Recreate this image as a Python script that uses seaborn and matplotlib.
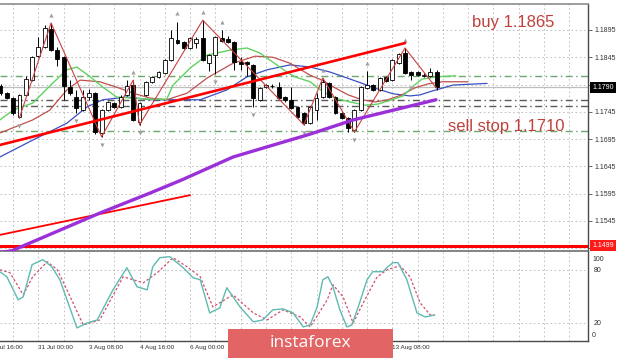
import matplotlib
matplotlib.use("Agg")
import matplotlib.pyplot as plt
import matplotlib.transforms as mtransforms
from matplotlib.patches import Rectangle
import numpy as np
import pandas as pd
import seaborn as sns

# ---------------- data (EURUSD H4) ----------------
opens = [1.1792, 1.1779, 1.1770, 1.1735, 1.1776, 1.1803, 1.1847, 1.1864, 1.1897, 1.1858,
         1.1846, 1.1790, 1.1772, 1.1748, 1.1772, 1.1779, 1.1706, 1.1748, 1.1761, 1.1754,
         1.1776, 1.1794, 1.1726, 1.1776, 1.1800, 1.1809, 1.1816, 1.1840, 1.1877, 1.1873,
         1.1862, 1.1871, 1.1880, 1.1834, 1.1849, 1.1880, 1.1879, 1.1873, 1.1836, 1.1836,
         1.1831, 1.1767, 1.1790, 1.1792, 1.1790, 1.1772, 1.1767, 1.1754, 1.1743, 1.1724,
         1.1748, 1.1772, 1.1798, 1.1772, 1.1743, 1.1734, 1.1712, 1.1748, 1.1789, 1.1794,
         1.1785, 1.1809, 1.1803, 1.1834, 1.1853, 1.1818, 1.1818, 1.1810, 1.1811, 1.1818]
highs = [1.1796, 1.1781, 1.1772, 1.1778, 1.1811, 1.1848, 1.1882, 1.1904, 1.1908, 1.1864,
         1.1848, 1.1803, 1.1785, 1.1785, 1.1787, 1.1781, 1.1750, 1.1765, 1.1763, 1.1775,
         1.1803, 1.1803, 1.1763, 1.1802, 1.1811, 1.1820, 1.1842, 1.1895, 1.1910, 1.1875,
         1.1882, 1.1882, 1.1913, 1.1851, 1.1884, 1.1895, 1.1884, 1.1875, 1.1846, 1.1838,
         1.1833, 1.1791, 1.1796, 1.1796, 1.1800, 1.1774, 1.1790, 1.1756, 1.1745, 1.1756,
         1.1779, 1.1807, 1.1800, 1.1774, 1.1745, 1.1736, 1.1750, 1.1792, 1.1820, 1.1796,
         1.1809, 1.1811, 1.1842, 1.1853, 1.1862, 1.1820, 1.1820, 1.1816, 1.1825, 1.1822]
lows = [1.1776, 1.1768, 1.1739, 1.1734, 1.1774, 1.1801, 1.1845, 1.1862, 1.1856, 1.1829,
        1.1767, 1.1776, 1.1743, 1.1746, 1.1766, 1.1704, 1.1699, 1.1746, 1.1752, 1.1752,
        1.1774, 1.1728, 1.1721, 1.1774, 1.1798, 1.1807, 1.1814, 1.1838, 1.1869, 1.1860,
        1.1860, 1.1862, 1.1838, 1.1820, 1.1815, 1.1873, 1.1871, 1.1822, 1.1822, 1.1811,
        1.1754, 1.1765, 1.1788, 1.1789, 1.1768, 1.1763, 1.1750, 1.1733, 1.1721, 1.1722,
        1.1730, 1.1770, 1.1770, 1.1741, 1.1732, 1.1708, 1.1708, 1.1746, 1.1787, 1.1783,
        1.1783, 1.1799, 1.1801, 1.1832, 1.1814, 1.1803, 1.1810, 1.1808, 1.1809, 1.1784]
closes = [1.1779, 1.1770, 1.1743, 1.1776, 1.1805, 1.1846, 1.1864, 1.1899, 1.1858, 1.1842,
          1.1792, 1.1779, 1.1752, 1.1772, 1.1779, 1.1708, 1.1748, 1.1763, 1.1754, 1.1772,
          1.1792, 1.1730, 1.1761, 1.1800, 1.1809, 1.1818, 1.1840, 1.1880, 1.1871, 1.1862,
          1.1880, 1.1878, 1.1840, 1.1849, 1.1882, 1.1875, 1.1873, 1.1836, 1.1833, 1.1833,
          1.1770, 1.1789, 1.1794, 1.1793, 1.1770, 1.1767, 1.1752, 1.1735, 1.1724, 1.1754,
          1.1770, 1.1800, 1.1772, 1.1743, 1.1734, 1.1715, 1.1748, 1.1790, 1.1794, 1.1785,
          1.1807, 1.1801, 1.1840, 1.1851, 1.1816, 1.1812, 1.1812, 1.1813, 1.1818, 1.1790]

# Alligator lines (lips green, teeth red, jaw blue) - candle index / price
lips_x = [-0.1, 2, 5.1, 8.3, 10.5, 12.1, 14.2, 16.2, 18.4, 21, 23.7, 26.3, 27.3, 30, 32.7, 36.3,
          39, 41, 43.1, 45.3, 46.6, 49, 50.9, 52.9, 55.3, 57.7, 59.7, 61.9, 63.7, 65.3, 66.7, 69.1, 72]
lips_y = [1.1730, 1.1748, 1.1761, 1.1798, 1.1822, 1.1827, 1.1809, 1.1790, 1.1772, 1.1770, 1.1768,
          1.1768, 1.1794, 1.1825, 1.1849, 1.1858, 1.1862, 1.1853, 1.1836, 1.1818, 1.1809, 1.1800,
          1.1783, 1.1770, 1.1763, 1.1757, 1.1759, 1.1767, 1.1774, 1.1792, 1.1805, 1.1809, 1.1811]
teeth_x = [-0.1, 5.1, 7.8, 10.5, 12.6, 15.7, 18.4, 21, 23.7, 26.3, 29.5, 32.7, 36.8, 40.3, 43.1,
           45.8, 47.4, 49, 50.9, 52.9, 55, 57.2, 59.3, 61.3, 63.5, 65.6, 67.6, 69.9, 74]
teeth_y = [1.1706, 1.1730, 1.1748, 1.1785, 1.1803, 1.1800, 1.1790, 1.1779, 1.1770, 1.1767, 1.1779,
           1.1807, 1.1834, 1.1847, 1.1845, 1.1834, 1.1823, 1.1812, 1.1803, 1.1789, 1.1776, 1.1767,
           1.1763, 1.1767, 1.1776, 1.1789, 1.1796, 1.1800, 1.1800]
jaw_x = [-0.1, 5.1, 10.5, 13.7, 16.2, 20, 23.7, 27.3, 31.6, 35.8, 39, 42.2, 45.8, 49, 52.1, 55.8,
         59.6, 62.1, 64.8, 66.4, 68.3, 71.6, 77]
jaw_y = [1.1662, 1.1693, 1.1724, 1.1754, 1.1767, 1.1772, 1.1767, 1.1767, 1.1767, 1.1785, 1.1809,
         1.1822, 1.1831, 1.1827, 1.1818, 1.1803, 1.1787, 1.1778, 1.1774, 1.1776, 1.1783, 1.1794, 1.1797]

# slow moving average (purple)
ma_slow_x = [-0.5, 1.8, 15.7, 23.7, 28.7, 36.8, 49, 55.8, 68.9]
ma_slow_y = [1.1486, 1.1490, 1.1559, 1.1596, 1.1620, 1.1662, 1.1704, 1.1730, 1.1767]

# zigzag and fractals
zigzag_x = [3, 8, 16, 21, 22, 32, 48, 51, 56, 64, 69]
zigzag_y = [1.1734, 1.1908, 1.1699, 1.1803, 1.1721, 1.1913, 1.1721, 1.1807, 1.1708, 1.1862, 1.1788]
fractal_up = [8, 21, 28, 32, 35, 51, 58, 64]
fractal_dn = [3, 12, 16, 22, 34, 40, 48, 56, 65]

# drawn lines and levels
trend_upper_x = [-0.1, 64.0]
trend_upper_y = [1.1684, 1.1871]
trend_lower_x = [-0.1, 30.0]
trend_lower_y = [1.1519, 1.1592]
level_red = 1.1499
levels_green = [1.1811, 1.1710]
levels_gray = [1.1767, 1.1756]
last_price = 1.1790

# stochastic
stoch_main_x = [-0.1, 1.0, 2.8, 3.6, 5.0, 6.7, 8.1, 9.4, 12.1, 13.7, 15.3, 17.8, 20.0, 21.6, 23.2,
                24.1, 25.2, 26.8, 28.9, 30.5, 31.6, 33.1, 34.7, 35.8, 37.9, 40, 41.5, 43.1, 44.7,
                46.3, 47.9, 49, 50.1, 51, 51.8, 52.6, 53.7, 54.8, 55.6, 56.6, 58, 58.9, 60.5, 61.3,
                62.1, 62.9, 64.3, 65.9, 67.2, 68.7]
stoch_main_y = [77.8, 72.1, 46.1, 49.5, 85.7, 91.4, 83.4, 68.7, 14.4, 20.0, 23.4, 57.4, 82.3, 60.8,
                57.4, 83.4, 93.6, 94.7, 82.3, 70.9, 68.7, 31.3, 37.0, 59.7, 38.1, 21.2, 23.4, 34.8,
                35.9, 31.3, 15.5, 17.8, 38.1, 68.7, 72.1, 60.8, 34.8, 15.5, 17.8, 38.1, 68.7, 77.8,
                77.8, 83.4, 88.0, 88.0, 68.7, 31.3, 26.8, 29.0]
stoch_sig_x = [-0.1, 1.5, 3.6, 5.1, 7.4, 9, 10.5, 13.1, 15.7, 19.4, 22.6, 24.8, 27.3, 29.5, 31.6,
               33.6, 36.8, 40, 42.2, 44.7, 47.4, 49, 51.7, 52.6, 54.2, 55.8, 57.4, 59.6, 61.2,
               63.2, 64.8, 66.4, 68, 68.7]
stoch_sig_y = [80.0, 76.6, 51.7, 72.1, 89.1, 80.0, 57.4, 17.8, 23.4, 72.1, 65.3, 76.6, 93.6, 83.4,
               72.1, 38.1, 51.7, 31.3, 23.4, 34.8, 26.8, 15.5, 46.1, 63.1, 49.5, 20.0, 42.7, 72.1,
               80.0, 84.5, 72.1, 42.7, 29.0, 29.0]
stoch_levels = [20, 80]

price_ticks = [1.1895, 1.1845, 1.1795, 1.1745, 1.1695, 1.1645, 1.1595, 1.1545, 1.1495]
price_labels = ["1.1895", "1.1845", "", "1.1745", "1.1695", "1.1645", "1.1595", "1.1545", ""]
time_ticks = [-2, 6, 14, 22, 30, 38, 46, 54, 62]
time_labels = ["29 Jul 16:00", "31 Jul 00:00", "3 Aug 08:00", "4 Aug 16:00", "6 Aug 00:00",
               "7 Aug 08:00", "10 Aug 16:00", "12 Aug 00:00", "13 Aug 08:00"]
grid_ticks = list(range(-2, 95, 4))

# ---------------- figure ----------------
sns.set_style("white")
plt.rcParams['font.family'] = ['Liberation Sans', 'DejaVu Sans']

W, H = 620, 358
fig = plt.figure(figsize=(W / 100, H / 100), dpi=100)
fig.patch.set_facecolor("white")

px = 6.32  # pixels per candle
x_left = (0 - 0.5) / px
x_right = (588 - 0.5) / px

ax = fig.add_axes([0, 1 - 251 / H, 588 / W, 247 / H])
axs = fig.add_axes([0, 1 - 340.7 / H, 588 / W, (340.7 - 252) / H])

grid_kw = dict(color="#b8b8b8", linewidth=0.6, linestyle=(0, (2, 3)))

# ---- main panel ----
for g in grid_ticks:
    ax.axvline(g, zorder=0, **grid_kw)
for p in price_ticks:
    ax.axhline(p, zorder=0, **grid_kw)

ax.axhline(last_price, color="#bdbdbd", linewidth=0.9, zorder=1)
for lv in levels_green:
    ax.axhline(lv, color="#6fa86f", linewidth=1.0, linestyle=(0, (5, 2.5, 1, 2.5)), zorder=1)
for lv in levels_gray:
    ax.axhline(lv, color="#5a5a5a", linewidth=1.0, linestyle=(0, (5, 2.5, 1, 2.5)), zorder=1)
ax.axhline(level_red, color="#ff0000", linewidth=2.2, zorder=2)

sns.lineplot(x=jaw_x, y=jaw_y, ax=ax, color="#3a4fc4", linewidth=0.9, estimator=None, sort=False, zorder=2)
sns.lineplot(x=teeth_x, y=teeth_y, ax=ax, color="#c0504d", linewidth=0.9, estimator=None, sort=False, zorder=2)
sns.lineplot(x=lips_x, y=lips_y, ax=ax, color="#5fd35f", linewidth=1.0, estimator=None, sort=False, zorder=2)

df = pd.DataFrame({"i": np.arange(len(opens)), "open": opens, "high": highs,
                   "low": lows, "close": closes})
bull = df["close"] >= df["open"]
ax.vlines(df["i"], df["low"], df["high"], color="black", linewidth=0.7, zorder=3)
body = (df["close"] - df["open"]).abs().clip(lower=0.00005)
ax.bar(df["i"], body, bottom=df[["open", "close"]].min(axis=1), width=0.62,
       color=np.where(bull, "white", "black"), edgecolor="black", linewidth=0.6, zorder=4)

sns.lineplot(x=zigzag_x, y=zigzag_y, ax=ax, color="#c94040", linewidth=0.8, estimator=None, sort=False, zorder=5)
sns.lineplot(x=trend_upper_x, y=trend_upper_y, ax=ax, color="#ff0000", linewidth=1.9, estimator=None, sort=False, zorder=6)
sns.lineplot(x=trend_lower_x, y=trend_lower_y, ax=ax, color="#ff0000", linewidth=1.3, estimator=None, sort=False, zorder=6)
sns.lineplot(x=ma_slow_x, y=ma_slow_y, ax=ax, color="#9b30d9", linewidth=2.4, estimator=None, sort=False, zorder=6)

up_tr = mtransforms.offset_copy(ax.transData, fig=fig, x=0, y=6, units="points")
dn_tr = mtransforms.offset_copy(ax.transData, fig=fig, x=0, y=-6, units="points")
ax.scatter(fractal_up, [highs[i] for i in fractal_up], marker="^", s=9, color="#a0a0a0",
           transform=up_tr, zorder=5, linewidths=0)
ax.scatter(fractal_dn, [lows[i] for i in fractal_dn], marker="v", s=9, color="#a0a0a0",
           transform=dn_tr, zorder=5, linewidths=0)

ax.set_xlabel("")
ax.set_ylabel("")
ax.set_xticks([])
ax.yaxis.tick_right()
ax.set_yticks(price_ticks)
ax.set_yticklabels(price_labels)
ax.set_xlim(x_left, x_right)
ax.set_ylim(1.1895 - 221 / 5450, 1.1895 + 26 / 5450)
ax.tick_params(axis="y", direction="out", length=3, width=0.6, color="#505050",
               labelsize=5, labelcolor="#303030", pad=2)
ax.spines["left"].set_visible(False)
ax.spines["right"].set_color("#4a4a4a")
ax.spines["right"].set_linewidth(1.0)
ax.spines["top"].set_color("#8c8c8c")
ax.spines["top"].set_linewidth(1.2)
ax.spines["bottom"].set_color("#6e6e6e")
ax.spines["bottom"].set_linewidth(1.2)

ax.annotate(f"{last_price:.4f}", xy=(1, last_price), xycoords=("axes fraction", "data"),
            xytext=(3, 0), textcoords="offset points", ha="left", va="center",
            fontsize=5, color="white",
            bbox=dict(boxstyle="square,pad=0.3", fc="black", ec="none"), annotation_clip=False)
ax.annotate(f"{level_red:.4f}", xy=(1, level_red), xycoords=("axes fraction", "data"),
            xytext=(3, 0), textcoords="offset points", ha="left", va="center",
            fontsize=5, color="white",
            bbox=dict(boxstyle="square,pad=0.3", fc="#ff1a1a", ec="none"), annotation_clip=False)

# ---- stochastic panel ----
for g in grid_ticks:
    axs.axvline(g, zorder=0, **grid_kw)
for lv in stoch_levels:
    axs.axhline(lv, zorder=0, **grid_kw)
sns.lineplot(x=stoch_main_x, y=stoch_main_y, ax=axs, color="#5fbab2", linewidth=1.0,
             estimator=None, sort=False, zorder=3)
sns.lineplot(x=stoch_sig_x, y=stoch_sig_y, ax=axs, color="#d0506a", linewidth=0.9,
             linestyle=(0, (2, 1.6)), estimator=None, sort=False, zorder=2)
axs.set_xlabel("")
axs.set_ylabel("")
axs.yaxis.tick_right()
axs.set_yticks(stoch_levels)
axs.set_yticklabels([str(v) for v in stoch_levels])
lbl_tr = mtransforms.blended_transform_factory(axs.transAxes, axs.transData)
axs.text(1.0 + 4 / 588, 92, "100", transform=lbl_tr, fontsize=5, color="#303030", va="center", ha="left")
axs.text(1.0 + 4 / 588, 6, "0", transform=lbl_tr, fontsize=5, color="#303030", va="center", ha="left")
axs.tick_params(axis="y", direction="out", length=0, labelsize=5, labelcolor="#303030", pad=4)
axs.set_xticks(time_ticks)
axs.set_xticklabels([])
axs.tick_params(axis="x", direction="out", length=3, width=0.6, color="#505050")
# limits after ticks (set_xticks may widen the view)
axs.set_xlim(x_left, x_right)
axs.set_ylim(0, 100)
axs.spines["left"].set_visible(False)
axs.spines["top"].set_visible(False)
axs.spines["right"].set_color("#4a4a4a")
axs.spines["bottom"].set_color("#4a4a4a")
axs.spines["right"].set_linewidth(1.0)
axs.spines["bottom"].set_linewidth(1.0)

# logo geometry (pixels)
logo_x0, logo_x1, logo_y0 = 228, 393, 329

# time labels, left-aligned at their tick (drawn as texts so the partly cut first one shows)
time_tr = mtransforms.offset_copy(
    mtransforms.blended_transform_factory(axs.transData, axs.transAxes),
    fig=fig, x=0, y=-3, units="points")
for tick_pos, lab in zip(time_ticks, time_labels):
    start_px = 0.5 + tick_pos * px
    if logo_x0 - 5 < start_px < logo_x1 - 10:
        continue  # hidden under the logo in the reference
    axs.text(tick_pos, 0, lab, transform=time_tr, fontsize=4.6, color="#303030",
             ha="left", va="top", clip_on=False)

# ---- annotations ----
fig.text(472 / W, 1 - 27 / H, "buy 1.1865", fontsize=12, color="#c0403c", ha="left", va="baseline")
fig.text(448 / W, 1 - 131 / H, "sell stop 1.1710", fontsize=12, color="#c0403c", ha="left", va="baseline")

# logo
fig.add_artist(Rectangle((logo_x0 / W, 0), (logo_x1 - logo_x0) / W, (H - logo_y0) / H,
                         transform=fig.transFigure, facecolor="#e26464", edgecolor="none", zorder=20))
fig.text(310.5 / W, 1 - 343 / H, "instaforex", fontsize=12.5, color="white", ha="center",
         va="center", family=["Open Sans", "DejaVu Sans"], zorder=21)

fig.savefig("out.png", dpi=100)
